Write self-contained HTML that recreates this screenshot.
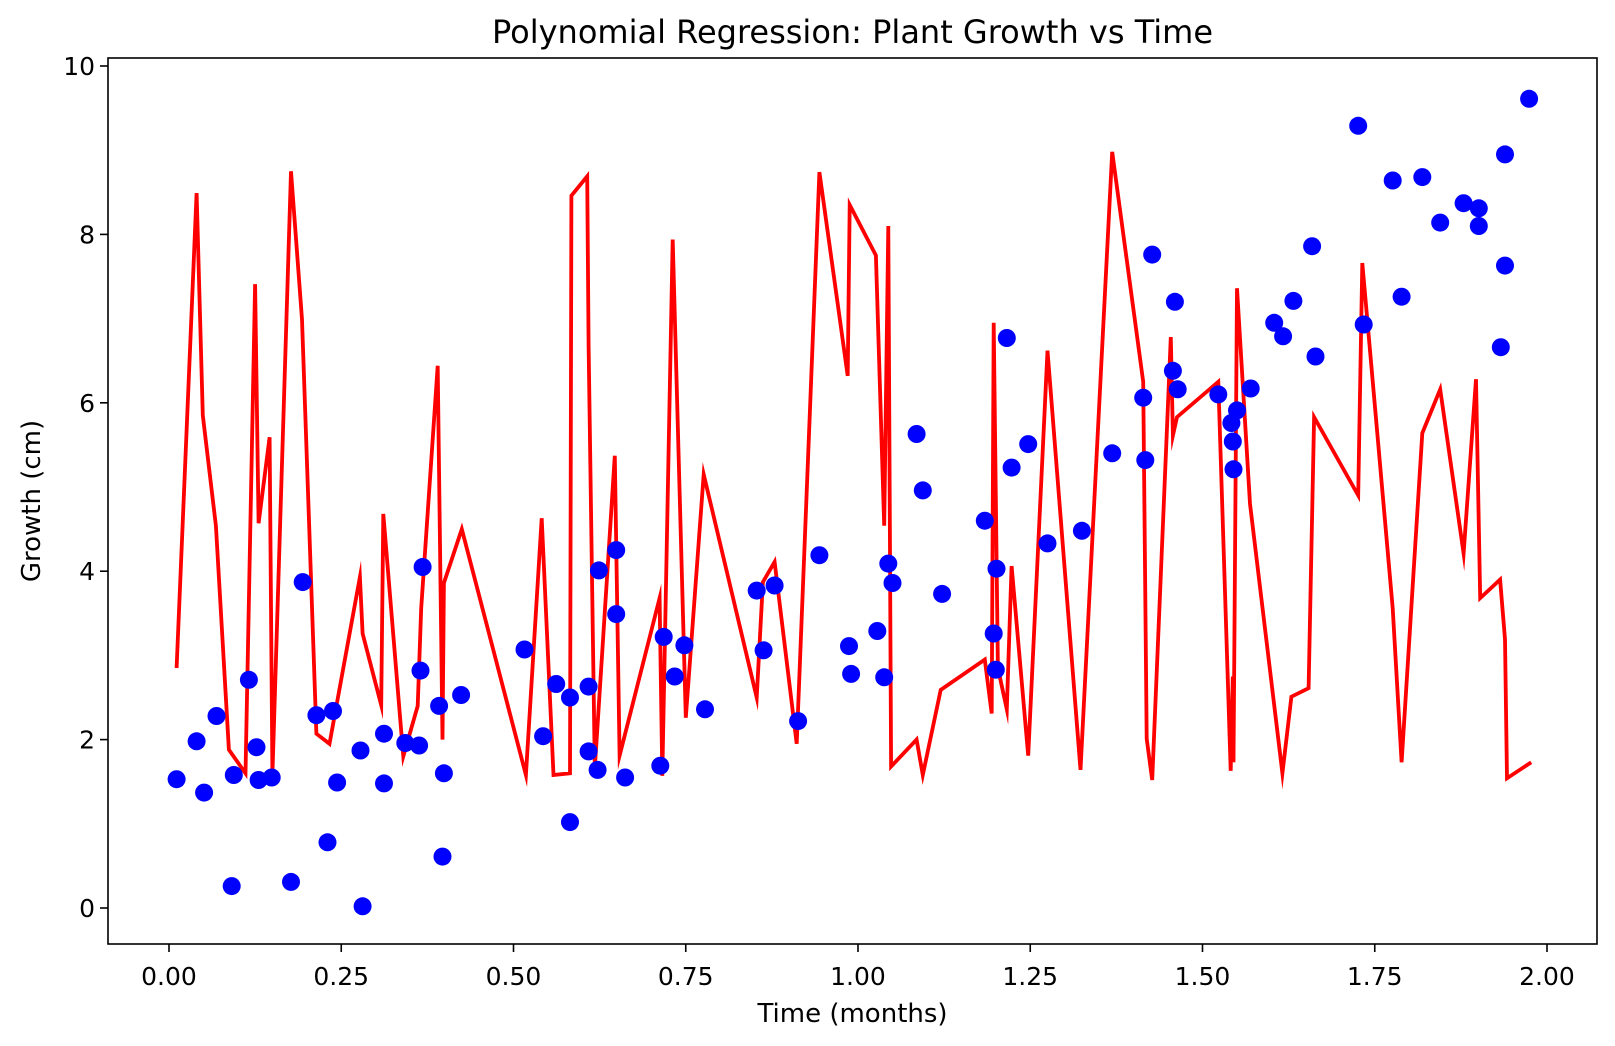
<!DOCTYPE html>
<html><head><meta charset="utf-8"><style>
html,body{margin:0;padding:0;background:#fff;}
svg{display:block;font-family:"DejaVu Sans","Liberation Sans",sans-serif;}
</style></head><body>
<svg id="chart" width="1615" height="1046" viewBox="0 0 1615 1046" xmlns="http://www.w3.org/2000/svg"></svg>
<script>
const xTicks=[0,0.25,0.5,0.75,1.0,1.25,1.5,1.75,2.0];
const xTickLabels=["0.00","0.25","0.50","0.75","1.00","1.25","1.50","1.75","2.00"];
const yTicks=[0,2,4,6,8,10];
const yTickLabels=["0","2","4","6","8","10"];
const scatterX=[0.011,0.040,0.051,0.069,0.091,0.094,0.116,0.127,0.130,0.149,0.177,0.194,0.214,0.230,0.238,0.244,0.278,0.281,0.312,0.312,0.343,0.363,0.365,0.368,0.392,0.397,0.399,0.424,0.516,0.543,0.562,0.582,0.582,0.609,0.609,0.622,0.624,0.649,0.649,0.662,0.713,0.718,0.734,0.748,0.778,0.853,0.863,0.879,0.913,0.944,0.987,0.990,1.028,1.038,1.044,1.050,1.085,1.094,1.122,1.184,1.197,1.200,1.201,1.216,1.223,1.247,1.275,1.325,1.369,1.414,1.417,1.427,1.457,1.460,1.464,1.523,1.542,1.544,1.545,1.550,1.570,1.604,1.617,1.632,1.659,1.664,1.726,1.734,1.776,1.789,1.819,1.845,1.879,1.901,1.901,1.933,1.939,1.939,1.974];
const scatterY=[1.53,1.98,1.37,2.28,0.26,1.58,2.71,1.91,1.52,1.55,0.31,3.87,2.29,0.78,2.34,1.49,1.87,0.02,2.07,1.48,1.96,1.93,2.82,4.05,2.40,0.61,1.60,2.53,3.07,2.04,2.66,2.50,1.02,2.63,1.86,1.64,4.01,3.49,4.25,1.55,1.69,3.22,2.75,3.12,2.36,3.77,3.06,3.83,2.22,4.19,3.11,2.78,3.29,2.74,4.09,3.86,5.63,4.96,3.73,4.60,3.26,2.83,4.03,6.77,5.23,5.51,4.33,4.48,5.40,6.06,5.32,7.76,6.38,7.20,6.16,6.10,5.76,5.54,5.21,5.91,6.17,6.95,6.79,7.21,7.86,6.55,9.29,6.93,8.64,7.26,8.68,8.14,8.37,8.31,8.10,6.66,7.63,8.95,9.61];
const lineX=[0.011,0.040,0.049,0.068,0.087,0.111,0.125,0.130,0.146,0.150,0.177,0.193,0.214,0.233,0.277,0.281,0.308,0.311,0.340,0.361,0.366,0.390,0.397,0.399,0.425,0.518,0.541,0.558,0.582,0.584,0.607,0.609,0.618,0.647,0.654,0.712,0.716,0.731,0.750,0.776,0.853,0.862,0.879,0.911,0.944,0.985,0.988,1.026,1.038,1.044,1.048,1.085,1.094,1.120,1.184,1.194,1.197,1.203,1.216,1.223,1.247,1.275,1.323,1.369,1.414,1.419,1.427,1.454,1.457,1.463,1.523,1.541,1.544,1.545,1.550,1.569,1.616,1.629,1.654,1.662,1.726,1.732,1.776,1.789,1.819,1.845,1.879,1.897,1.903,1.932,1.939,1.942,1.977];
const lineY=[2.85,8.49,5.85,4.54,1.88,1.60,7.41,4.57,5.59,1.58,8.75,6.99,2.07,1.95,3.93,3.26,2.41,4.68,1.80,2.40,3.56,6.44,2.00,3.86,4.50,1.58,4.63,1.58,1.60,8.46,8.69,6.68,1.66,5.37,1.81,3.68,1.57,7.94,2.26,5.15,2.50,3.87,4.11,1.95,8.74,6.32,8.35,7.75,4.54,8.10,1.68,2.00,1.58,2.59,2.95,2.31,6.95,2.85,2.36,4.06,1.81,6.62,1.64,8.98,6.25,2.01,1.52,6.78,5.61,5.83,6.25,1.63,2.75,1.73,7.36,4.80,1.60,2.51,2.61,5.83,4.90,7.66,3.56,1.73,5.64,6.16,4.21,6.28,3.68,3.90,3.19,1.54,1.73];

const L=108,R=1597,T=58,B=944;
const X0=169,XU=689,Y0=908,YU=84.2;
function sx(v){return X0+v*XU;}
function sy(v){return Y0-v*YU;}
const NS="http://www.w3.org/2000/svg";
const svg=document.getElementById('chart');
function mk(tag,attrs,parent){const e=document.createElementNS(NS,tag);for(const k in attrs)e.setAttribute(k,attrs[k]);(parent||svg).appendChild(e);return e;}

const plot=mk('g',{});



const pts=lineX.map((x,i)=>sx(x).toFixed(1)+','+sy(lineY[i]).toFixed(1)).join(' ');
const line=mk('polyline',{points:pts,fill:'none',stroke:'#ff0000','stroke-width':3.8,'stroke-linejoin':'miter','stroke-miterlimit':10},plot);



const sg=mk('g',{},plot);


scatterX.forEach((x,i)=>{
  const c=mk('circle',{cx:sx(x).toFixed(1),cy:sy(scatterY[i]).toFixed(1),r:9,fill:'#0000ff'},sg);
  
  
});

const frame=mk('rect',{x:L,y:T,width:R-L,height:B-T,fill:'none',stroke:'#000','stroke-width':1.6});



const xa=mk('g',{});


xTicks.forEach((t,i)=>{
  mk('line',{x1:sx(t),x2:sx(t),y1:B,y2:B+8,stroke:'#000','stroke-width':1.6},xa);
  const tx=mk('text',{x:sx(t),y:985,'text-anchor':'middle','font-size':25,fill:'#000'},xa);
  tx.textContent=xTickLabels[i];
  
  
});
const ya=mk('g',{});


yTicks.forEach((t,i)=>{
  mk('line',{x1:L-8,x2:L,y1:sy(t),y2:sy(t),stroke:'#000','stroke-width':1.6},ya);
  const tx=mk('text',{x:L-13,y:sy(t)+9,'text-anchor':'end','font-size':25,fill:'#000'},ya);
  tx.textContent=yTickLabels[i];
  
  
});
const xl=mk('text',{x:(L+R)/2,y:1022,'text-anchor':'middle','font-size':26,fill:'#000'});
xl.textContent='Time (months)';


const yl=mk('text',{x:0,y:0,'text-anchor':'middle','font-size':26,fill:'#000',transform:'translate(40,'+((T+B)/2)+') rotate(-90)'});
yl.textContent='Growth (cm)';


const tt=mk('text',{x:(L+R)/2,y:43,'text-anchor':'middle','font-size':32,fill:'#000'});
tt.textContent='Polynomial Regression: Plant Growth vs Time';


</script>
</body></html>
